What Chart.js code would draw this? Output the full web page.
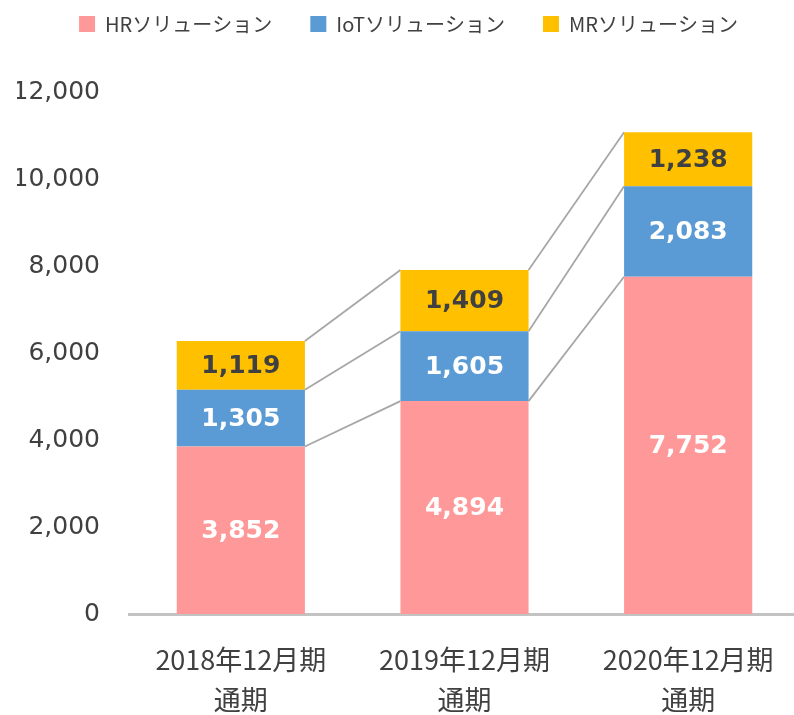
<!DOCTYPE html>
<html>
<head>
<meta charset="utf-8">
<script src="https://cdn.jsdelivr.net/npm/chart.js@4"></script>
<style>
  html, body { margin: 0; padding: 0; background: #fff; overflow: hidden; }
  #wrap { width: 800px; height: 715px; }
</style>
</head>
<body>
<div id="wrap"><canvas id="chart" width="800" height="715"></canvas></div>
<script>
const categories = [['2018年12月期', '通期'], ['2019年12月期', '通期'], ['2020年12月期', '通期']];
const seriesNames = ['HRソリューション', 'IoTソリューション', 'MRソリューション'];
const hrValues = [3852, 4894, 7752];
const iotValues = [1305, 1605, 2083];
const mrValues = [1119, 1409, 1238];
const yTicks = [0, 2000, 4000, 6000, 8000, 10000, 12000];

const colors = ['#FF9999', '#5B9BD5', '#FFC000'];
const labelColors = ['#ffffff', '#ffffff', '#404040'];
const jpFont = "'Noto Sans CJK JP', 'Noto Sans', sans-serif";
const numFont = "'DejaVu Sans', Verdana, sans-serif";

// extra room under the legend
const legendGap = {
  id: 'legendGap',
  beforeInit(chart) {
    const fit = chart.legend.fit;
    chart.legend.fit = function () {
      fit.call(this);
      this.height += 48;
    };
  }
};

// gray connector lines between stack tops of neighbouring bars
const connectors = {
  id: 'connectors',
  beforeDatasetsDraw(chart) {
    const ctx = chart.ctx;
    ctx.save();
    ctx.strokeStyle = '#A6A6A6';
    ctx.lineWidth = 1.75;
    chart.data.datasets.forEach((ds, di) => {
      const bars = chart.getDatasetMeta(di).data;
      for (let i = 0; i < bars.length - 1; i++) {
        const a = bars[i], b = bars[i + 1];
        ctx.beginPath();
        ctx.moveTo(a.x + a.width / 2, a.y);
        ctx.lineTo(b.x - b.width / 2, b.y);
        ctx.stroke();
      }
    });
    ctx.restore();
  }
};

const valueLabels = {
  id: 'valueLabels',
  afterDatasetsDraw(chart) {
    const ctx = chart.ctx;
    ctx.save();
    ctx.font = 'bold 25px ' + numFont;
    ctx.textAlign = 'center';
    ctx.textBaseline = 'middle';
    chart.data.datasets.forEach((ds, di) => {
      chart.getDatasetMeta(di).data.forEach((bar, i) => {
        ctx.fillStyle = labelColors[di];
        ctx.fillText(ds.data[i].toLocaleString('en-US'), bar.x, (bar.y + bar.base) / 2 + 1);
      });
    });
    ctx.restore();
  }
};

new Chart(document.getElementById('chart'), {
  type: 'bar',
  data: {
    labels: categories,
    datasets: [hrValues, iotValues, mrValues].map((vals, i) => ({
      label: seriesNames[i],
      data: vals,
      backgroundColor: colors[i],
      borderWidth: 0,
      barPercentage: 0.573,
      categoryPercentage: 1
    }))
  },
  options: {
    responsive: false,
    animation: false,
    layout: { padding: { top: -24, left: 17, right: 0, bottom: 0 } },
    plugins: {
      legend: {
        position: 'top',
        labels: {
          boxWidth: 16,
          boxHeight: 16,
          padding: 38,
          color: '#404040',
          font: { family: jpFont, size: 20 }
        }
      },
      tooltip: { enabled: false }
    },
    scales: {
      x: {
        stacked: true,
        grid: { display: false, drawTicks: false },
        border: { display: true, color: '#C3C3C3', width: 3 },
        ticks: {
          color: '#404040',
          font: { family: jpFont, size: 27, lineHeight: 1.48 },
          padding: 26,
          maxRotation: 0
        },
        afterFit: (scale) => {
          scale.paddingLeft = 0;
          scale.paddingRight = 0;
          scale.height = 101;
        }
      },
      y: {
        stacked: true,
        min: 0,
        max: 12000,
        afterBuildTicks: (scale) => { scale.ticks = yTicks.map(v => ({ value: v })); },
        afterFit: (scale) => { scale.width = 112; },
        grid: { display: false, drawTicks: false },
        border: { display: false },
        ticks: {
          color: '#404040',
          padding: 29,
          font: { family: numFont, size: 25 },
          callback: (v) => v.toLocaleString('en-US')
        }
      }
    }
  },
  plugins: [legendGap, connectors, valueLabels]
});
</script>
</body>
</html>
